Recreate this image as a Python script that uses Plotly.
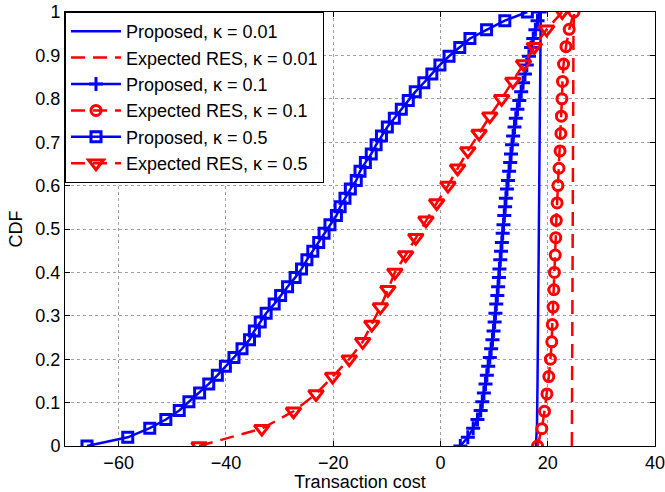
import plotly.graph_objects as go

# ---- data ----
prop001_x = [17.8, 18.0, 18.1, 18.25, 18.45, 18.6, 18.7]
prop001_y = [0.0, 0.05, 0.15, 0.35, 0.6, 0.8, 1.0]

res001_x = [24.5, 24.6, 24.7, 24.8, 24.9]
res001_y = [0.0, 0.5, 0.8, 0.95, 1.0]

prop01_x = [3.7, 5.1, 6.1, 6.9, 7.5, 7.8, 8.1, 8.4, 8.65, 8.9,
            9.2, 9.45, 9.7, 9.9, 10.1, 10.25, 10.4, 10.6, 10.75, 10.9,
            11.0, 11.15, 11.3, 11.45, 11.6, 11.75, 11.9, 12.05, 12.2, 12.4,
            12.6, 12.8, 13.0, 13.15, 13.35, 13.55, 13.8, 14.05, 14.35, 14.7,
            15.05, 15.4, 15.75, 16.1, 16.5, 16.9, 17.3, 17.7, 18.1, 18.5]
prop01_y = [0.0, 0.020, 0.041, 0.061, 0.082, 0.102, 0.122, 0.143, 0.163, 0.184,
            0.204, 0.224, 0.245, 0.265, 0.286, 0.306, 0.327, 0.347, 0.367, 0.388,
            0.408, 0.429, 0.449, 0.469, 0.490, 0.510, 0.531, 0.551, 0.571, 0.592,
            0.612, 0.633, 0.653, 0.673, 0.694, 0.714, 0.735, 0.755, 0.776, 0.796,
            0.816, 0.837, 0.857, 0.878, 0.898, 0.918, 0.939, 0.959, 0.980, 1.0]

res01_x = [18.1, 18.9, 19.4, 19.85, 20.2, 20.5, 20.75, 20.85, 21.0, 21.15,
           21.25, 21.4, 21.5, 21.6, 21.75, 21.9, 22.1, 22.3, 22.45, 22.55,
           22.65, 22.75, 22.95, 23.4, 24.0, 24.9]
res01_y = [0.0, 0.04, 0.08, 0.12, 0.16, 0.20, 0.24, 0.28, 0.32, 0.36,
           0.40, 0.44, 0.48, 0.52, 0.56, 0.60, 0.64, 0.68, 0.72, 0.76,
           0.80, 0.84, 0.88, 0.92, 0.96, 1.0]

prop05_x = [-65.9, -58.3, -54.2, -51.2, -48.7, -46.9, -44.9, -43.2, -41.6, -40.1,
            -38.5, -37.0, -35.6, -34.7, -33.6, -32.5, -31.0, -29.8, -28.5, -27.1,
            -25.9, -24.9, -23.8, -22.7, -21.7, -20.6, -19.4, -18.7, -17.8, -16.8,
            -15.7, -15.0, -14.0, -12.9, -12.0, -11.0, -9.9, -8.6, -7.3, -6.0,
            -4.7, -3.1, -1.6, -0.1, 1.6, 3.6, 5.5, 8.6, 12.0, 16.2]
prop05_y = prop01_y

res05_x = [-45.0, -33.3, -27.4, -23.2, -20.1, -17.0, -14.5, -12.8, -11.2, -9.8,
           -8.5, -6.5, -4.6, -2.7, -0.7, 1.4, 3.2, 5.1, 7.2, 9.2,
           11.4, 13.5, 15.5, 17.5, 19.8, 22.7]
res05_y = res01_y

x_ticks = [-60, -40, -20, 0, 20, 40]
y_ticks = [0, 0.1, 0.2, 0.3, 0.4, 0.5, 0.6, 0.7, 0.8, 0.9, 1]

BLUE = "#0000FF"
RED = "#FF0000"
LW = 2.5
DASH = "14px,8px"

fig = go.Figure()
fig.add_trace(go.Scatter(x=prop001_x, y=prop001_y, mode="lines",
                         name="Proposed, κ = 0.01",
                         line=dict(color=BLUE, width=LW)))
fig.add_trace(go.Scatter(x=res001_x, y=res001_y, mode="lines",
                         name="Expected RES, κ = 0.01",
                         line=dict(color=RED, width=LW, dash=DASH)))
fig.add_trace(go.Scatter(x=prop01_x, y=prop01_y, mode="lines+markers",
                         name="Proposed, κ = 0.1",
                         line=dict(color=BLUE, width=LW),
                         marker=dict(symbol="cross-thin", size=10, color=BLUE,
                                     line=dict(color=BLUE, width=3))))
fig.add_trace(go.Scatter(x=res01_x, y=res01_y, mode="lines+markers",
                         name="Expected RES, κ = 0.1",
                         line=dict(color=RED, width=LW, dash=DASH),
                         marker=dict(symbol="circle-open", size=10, color=RED,
                                     line=dict(color=RED, width=3))))
fig.add_trace(go.Scatter(x=prop05_x, y=prop05_y, mode="lines+markers",
                         name="Proposed, κ = 0.5",
                         line=dict(color=BLUE, width=LW),
                         marker=dict(symbol="square-open", size=10, color=BLUE,
                                     line=dict(color=BLUE, width=3))))
fig.add_trace(go.Scatter(x=res05_x, y=res05_y, mode="lines+markers",
                         name="Expected RES, κ = 0.5",
                         line=dict(color=RED, width=LW, dash=DASH),
                         marker=dict(symbol="triangle-down-open", size=13, color=RED,
                                     line=dict(color=RED, width=3))))

axis_common = dict(showline=True, linecolor="black", linewidth=1, mirror="ticks",
                   ticks="inside", ticklen=5, tickcolor="black",
                   showgrid=True, gridcolor="#a0a0a0", griddash="dot", gridwidth=1,
                   zeroline=False, tickfont=dict(size=18, color="black"),
                   automargin=False, ticklabeloverflow="allow")

fig.update_xaxes(range=[-70, 40], tickvals=x_ticks,
                 title=dict(text="Transaction cost", font=dict(size=18, color="black"), standoff=2),
                 **axis_common)
fig.update_yaxes(range=[0, 1], tickvals=y_ticks,
                 title=dict(text="CDF", font=dict(size=18, color="black"), standoff=8),
                 **axis_common)

fig.update_layout(
    width=665, height=492,
    margin=dict(l=65, r=10, t=12, b=46),
    paper_bgcolor="white", plot_bgcolor="white",
    font=dict(family="Liberation Sans, Arial, sans-serif", size=18, color="black"),
    legend=dict(x=0, y=1, xanchor="left", yanchor="top",
                bgcolor="white", bordercolor="black", borderwidth=1,
                font=dict(size=18), itemwidth=50, tracegroupgap=0),
    showlegend=True,
)

fig.write_html("out.html")
